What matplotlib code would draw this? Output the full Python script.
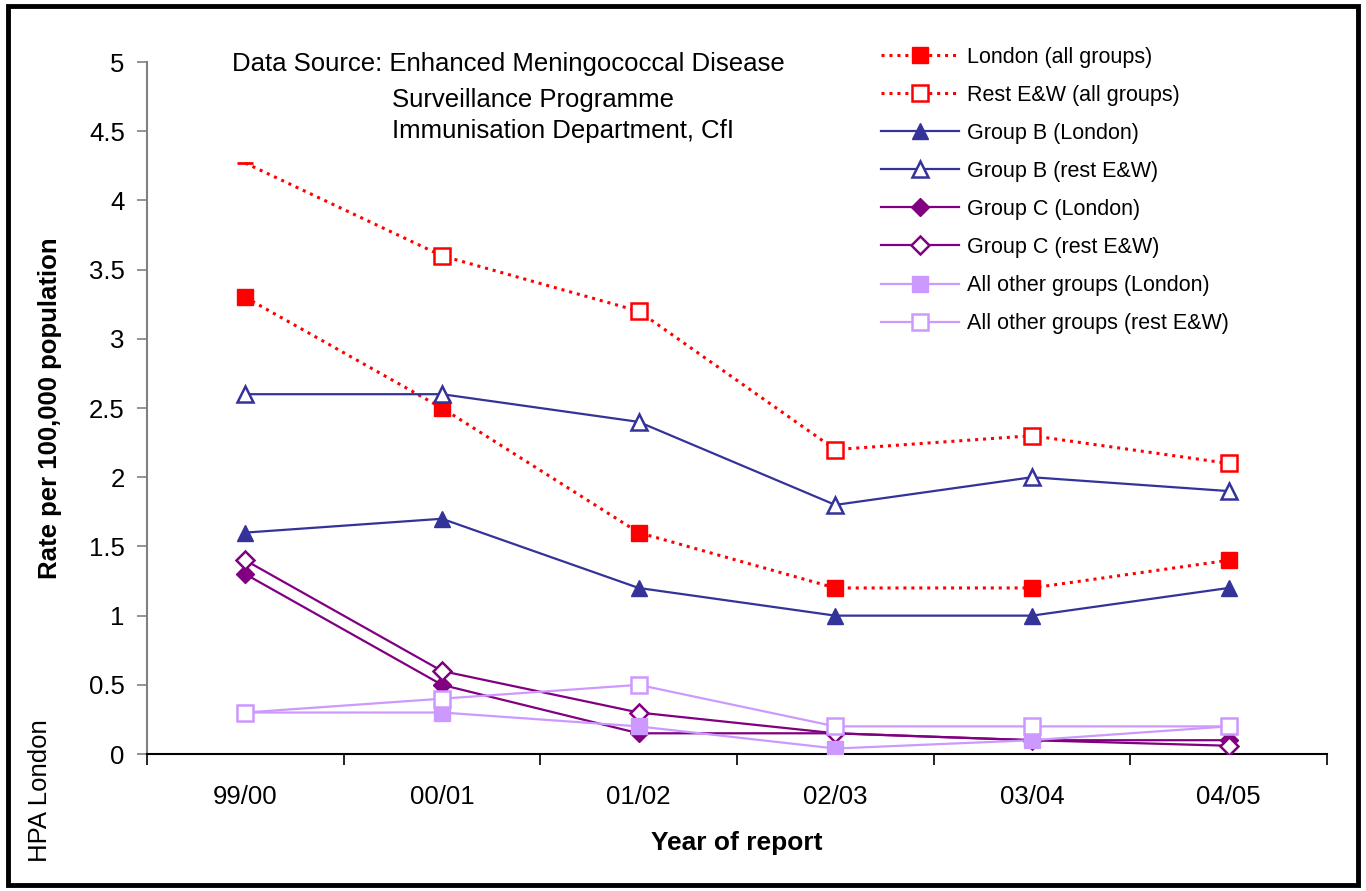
import numpy as np
import matplotlib.pyplot as plt
from matplotlib.patches import Rectangle

plt.rcParams['font.family'] = ['Liberation Sans', 'DejaVu Sans']

years = ['99/00', '00/01', '01/02', '02/03', '03/04', '04/05']

london_all = [3.3, 2.5, 1.6, 1.2, 1.2, 1.4]
rest_all = [4.27, 3.6, 3.2, 2.2, 2.3, 2.1]
groupb_london = [1.6, 1.7, 1.2, 1.0, 1.0, 1.2]
groupb_rest = [2.6, 2.6, 2.4, 1.8, 2.0, 1.9]
groupc_london = [1.3, 0.5, 0.15, 0.15, 0.1, 0.1]
groupc_rest = [1.4, 0.6, 0.3, 0.15, 0.1, 0.06]
other_london = [0.3, 0.3, 0.2, 0.04, 0.1, 0.2]
other_rest = [0.3, 0.4, 0.5, 0.2, 0.2, 0.2]

RED = '#FF0000'
NAVY = '#333399'
PURPLE = '#800080'
LILAC = '#CC99FF'

fig = plt.figure(figsize=(13.66, 8.91), dpi=100)
ax = fig.add_axes([0.1076, 0.1537, 0.8638, 0.7767])
x = np.arange(len(years))

ms = 11.5
# red dotted series
ax.plot(x, london_all, ls=(0, (1, 1.6)), lw=2.2, color=RED, marker='s', ms=ms,
        mfc=RED, mec=RED, label='London (all groups)', zorder=3)
ax.plot(x, rest_all, ls=(0, (1, 1.6)), lw=2.2, color=RED, marker='s', ms=ms,
        mfc='white', mec=RED, mew=1.8, markevery=slice(1, None), zorder=3)
ax.plot(x[:1], rest_all[:1], ls='none', marker='_', ms=ms, mew=2, color=RED, zorder=3)
ax.plot([], [], ls=(0, (1, 1.6)), lw=2.2, color=RED, marker='s', ms=ms,
        mfc='white', mec=RED, mew=1.8, label='Rest E&W (all groups)')

ax.plot(x, groupb_london, color=NAVY, lw=1.6, marker='^', ms=ms, mfc=NAVY, mec=NAVY,
        label='Group B (London)', zorder=3)
ax.plot(x, groupb_rest, color=NAVY, lw=1.6, marker='^', ms=ms, mfc='white', mec=NAVY,
        mew=1.8, label='Group B (rest E&W)', zorder=3)
ax.plot(x, groupc_london, color=PURPLE, lw=1.6, marker='D', ms=9, mfc=PURPLE, mec=PURPLE,
        label='Group C (London)', zorder=3)
ax.plot(x, groupc_rest, color=PURPLE, lw=1.6, marker='D', ms=9, mfc='white', mec=PURPLE,
        mew=1.8, label='Group C (rest E&W)', zorder=3)
ax.plot(x, other_london, color=LILAC, lw=1.6, marker='s', ms=ms, mfc=LILAC, mec=LILAC,
        label='All other groups (London)', zorder=3)
ax.plot(x, other_rest, color=LILAC, lw=1.6, marker='s', ms=ms, mfc='white', mec=LILAC,
        mew=1.8, label='All other groups (rest E&W)', zorder=3)

ax.set_xlim(-0.5, 5.5)
ax.set_ylim(0, 5)
ax.set_yticks(np.arange(0, 5.01, 0.5))
ax.set_yticklabels(['0', '0.5', '1', '1.5', '2', '2.5', '3', '3.5', '4', '4.5', '5'])
ax.set_xticks(x)
ax.set_xticklabels(years)
ax.set_xticks(np.arange(-0.5, 5.6, 1), minor=True)
ax.tick_params(axis='x', which='major', length=0, pad=22, labelsize=18.5)
ax.tick_params(axis='x', which='minor', length=8, width=1.2, color='black')
ax.tick_params(axis='y', length=7, width=1.2, color='#808080', labelsize=18.5, pad=9)

for s in ['top', 'right']:
    ax.spines[s].set_visible(False)
ax.spines['left'].set_color('#808080')
ax.spines['left'].set_linewidth(1.5)
ax.spines['bottom'].set_linewidth(1.5)

ax.set_ylabel('Rate per 100,000 population', fontsize=18.5, fontweight='bold', labelpad=19)
ax.set_xlabel('Year of report', fontsize=19, fontweight='bold', labelpad=16)

fig.text(0.17, 0.928, 'Data Source: Enhanced Meningococcal Disease', fontsize=18.5, va='center')
fig.text(0.287, 0.888, 'Surveillance Programme', fontsize=18.5, va='center')
fig.text(0.287, 0.853, 'Immunisation Department, CfI', fontsize=18.5, va='center')
fig.text(0.029, 0.113, 'HPA London', fontsize=18.5, rotation=90, va='center', ha='center')

leg = ax.legend(loc='upper left', bbox_to_anchor=(0.631, 0.969), bbox_transform=fig.transFigure,
                frameon=False, fontsize=15.5, handlelength=3.6, handletextpad=0.4,
                labelspacing=0.79)

fig.patches.append(Rectangle((0.006, 0.007), 0.988, 0.986, transform=fig.transFigure,
                             fill=False, edgecolor='black', linewidth=3.5))

fig.savefig('out.png', dpi=100)
